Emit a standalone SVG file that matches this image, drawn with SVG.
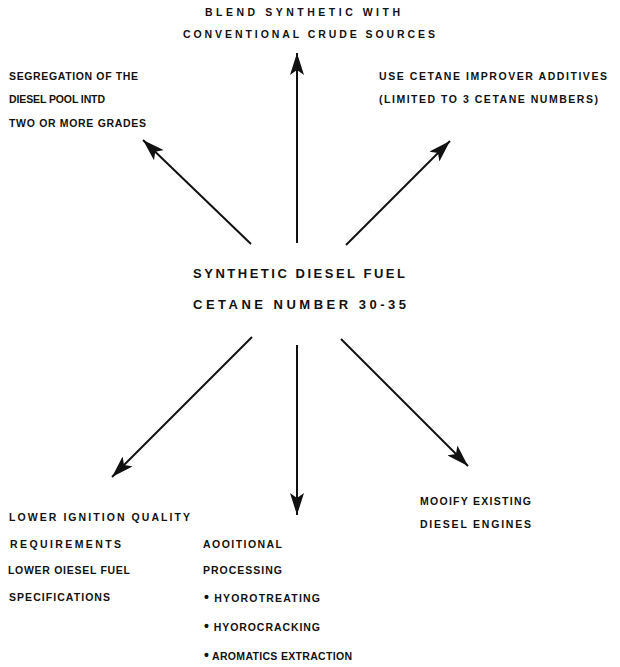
<svg xmlns="http://www.w3.org/2000/svg" width="620" height="667" viewBox="0 0 620 667">
<defs>
<style>
text{font-family:"Liberation Sans",Arial,sans-serif;font-weight:bold;font-size:10.5px;fill:#111}
text.m{font-size:13px}
.c{stroke:#111;stroke-width:2;fill:none}
.b{font-size:14px}
</style>
<marker id="ah" viewBox="0 0 22 14" refX="22" refY="7" markerWidth="22" markerHeight="14" markerUnits="userSpaceOnUse" orient="auto">
<path d="M0,0 L22,7 L0,14 L5,7 Z" fill="#111"/>
</marker>
</defs>
<rect width="620" height="667" fill="#fff"/>
<g id="connectors">
<line class="c" x1="297" y1="243" x2="297" y2="53" marker-end="url(#ah)"/>
<line class="c" x1="251" y1="244" x2="143" y2="140" marker-end="url(#ah)"/>
<line class="c" x1="346" y1="245" x2="450" y2="141" marker-end="url(#ah)"/>
<line class="c" x1="252" y1="337" x2="112" y2="477" marker-end="url(#ah)"/>
<line class="c" x1="297" y1="345" x2="297" y2="515" marker-end="url(#ah)"/>
<line class="c" x1="341" y1="339" x2="468" y2="466" marker-end="url(#ah)"/>
</g>
<g id="center">
<text class="m" x="193" y="278" textLength="212" lengthAdjust="spacing">SYNTHETIC DIESEL FUEL</text>
<text class="m" x="193" y="309" textLength="213" lengthAdjust="spacing">CETANE NUMBER 30-35</text>
</g>
<g id="blend">
<text x="205" y="16" textLength="195" lengthAdjust="spacing">BLEND SYNTHETIC WITH</text>
<text x="183" y="38" textLength="252" lengthAdjust="spacing">CONVENTIONAL CRUDE SOURCES</text>
</g>
<g id="segregation">
<text x="9" y="80" textLength="129" lengthAdjust="spacing">SEGREGATION OF THE</text>
<text x="9" y="103" textLength="96" lengthAdjust="spacing">DIESEL POOL INTD</text>
<text x="9" y="127" textLength="137" lengthAdjust="spacing">TWO OR MORE GRADES</text>
</g>
<g id="cetane-improver">
<text x="379" y="80" textLength="228" lengthAdjust="spacing">USE CETANE IMPROVER ADDITIVES</text>
<text x="379" y="103" textLength="219" lengthAdjust="spacing">(LIMITED TO 3 CETANE NUMBERS)</text>
</g>
<g id="lower-ignition">
<text x="9" y="521" textLength="181" lengthAdjust="spacing">LOWER IGNITION QUALITY</text>
<text x="10" y="548" textLength="111" lengthAdjust="spacing">REQUIREMENTS</text>
<text x="8" y="574" textLength="122" lengthAdjust="spacing">LOWER OIESEL FUEL</text>
<text x="9" y="601" textLength="101" lengthAdjust="spacing">SPECIFICATIONS</text>
</g>
<g id="processing">
<text x="203" y="548" textLength="79" lengthAdjust="spacing">AOOITIONAL</text>
<text x="203" y="574" textLength="79" lengthAdjust="spacing">PROCESSING</text>
<text x="204" y="602" textLength="116" lengthAdjust="spacing"><tspan class="b">•</tspan> HYOROTREATING</text>
<text x="204" y="631" textLength="116" lengthAdjust="spacing"><tspan class="b">•</tspan> HYOROCRACKING</text>
<text x="204" y="660" textLength="148" lengthAdjust="spacing"><tspan class="b">•</tspan> AROMATICS EXTRACTION</text>
</g>
<g id="modify">
<text x="420" y="505" textLength="111" lengthAdjust="spacing">MOOIFY EXISTING</text>
<text x="420" y="528" textLength="111" lengthAdjust="spacing">DIESEL ENGINES</text>
</g>
</svg>
